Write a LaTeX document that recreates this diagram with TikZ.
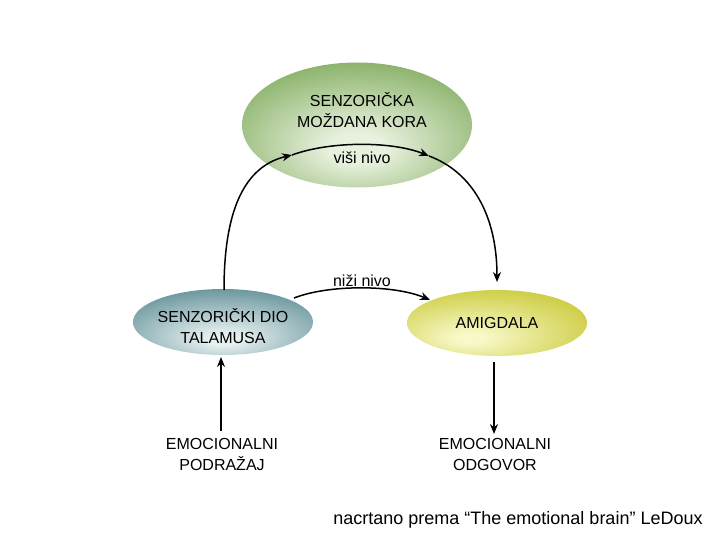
\documentclass[tikz,border=0pt]{standalone}
\usepackage{fontspec}
\setmainfont{Liberation Sans}
\usetikzlibrary{shapes.geometric,arrows.meta}
\definecolor{gOut}{RGB}{108,158,68}
\definecolor{gIn}{RGB}{232,241,222}
\definecolor{tOut}{RGB}{88,137,146}
\definecolor{tIn}{RGB}{232,241,241}
\definecolor{yOut}{RGB}{196,196,40}
\definecolor{yIn}{RGB}{248,248,200}
\pgfdeclareradialshading{gshade}{\pgfpoint{0bp}{-10bp}}{color(0bp)=(gIn); color(6bp)=(gIn); color(40bp)=(gOut); color(80bp)=(gOut)}
\pgfdeclareradialshading{tshade}{\pgfpoint{0bp}{-14bp}}{color(0bp)=(tIn); color(4bp)=(tIn); color(38bp)=(tOut); color(80bp)=(tOut)}
\pgfdeclareradialshading{yshade}{\pgfpoint{-8bp}{-12bp}}{color(0bp)=(yIn); color(4bp)=(yIn); color(40bp)=(yOut); color(80bp)=(yOut)}
\tikzset{
  blob/.style={ellipse, draw=none, inner sep=0pt},
  lbl/.style={font=\fontsize{16}{21}\selectfont, align=center, inner sep=0pt},
  arr/.style={-{Stealth[length=10pt,width=8pt]}, line width=1.5pt, black},
}
\begin{document}
\begin{tikzpicture}[x=1pt,y=-1pt]
\useasboundingbox (0,0) rectangle (720,540);
\node[blob, minimum width=230pt, minimum height=125pt, shading=gshade] (cortex) at (357,125) {};
\node[blob, minimum width=180pt, minimum height=66pt, shading=tshade] (thal) at (223,322) {};
\node[blob, minimum width=180pt, minimum height=66pt, shading=yshade] (amyg) at (497,323) {};
\node[lbl] (cortext) at (362,110.5) {SENZORIČKA\\MOŽDANA KORA};
\node[lbl] (visi) at (362,158) {viši nivo};
\node[lbl] (thaltext) at (223,326) {SENZORIČKI DIO\\TALAMUSA};
\node[lbl] (amygtext) at (497,323) {AMIGDALA};
\node[lbl] (nizi) at (362,281) {niži nivo};
\node[lbl] (stim) at (222,454) {EMOCIONALNI\\PODRAŽAJ};
\node[lbl] (resp) at (495,454) {EMOCIONALNI\\ODGOVOR};
\node[lbl, font=\fontsize{18}{22}\selectfont] (note) at (518,520) {nacrtano prema “The emotional brain” LeDoux};
\coordinate (cA) at (292,155);
\coordinate (cB) at (429,156);
\coordinate (tN) at (224,290);
\coordinate (aN) at (497,282);
\coordinate (tR) at (294,298);
\coordinate (aL) at (430,300);
\coordinate (sTop) at (221,357);
\coordinate (sBot) at (221,431);
\coordinate (rTop) at (494,362);
\coordinate (rBot) at (494,434);
\draw[arr] (tN) .. controls (224,200) and (250,165) .. (cA);
\draw[arr] (cA) .. controls (330,141) and (392,141) .. (cB);
\draw[arr] (cB) .. controls (472,172) and (497,215) .. (aN);
\draw[arr] (tR) .. controls (330,284) and (395,285) .. (aL);
\draw[arr] (sBot) -- (sTop);
\draw[arr] (rTop) -- (rBot);
\end{tikzpicture}
\end{document}
